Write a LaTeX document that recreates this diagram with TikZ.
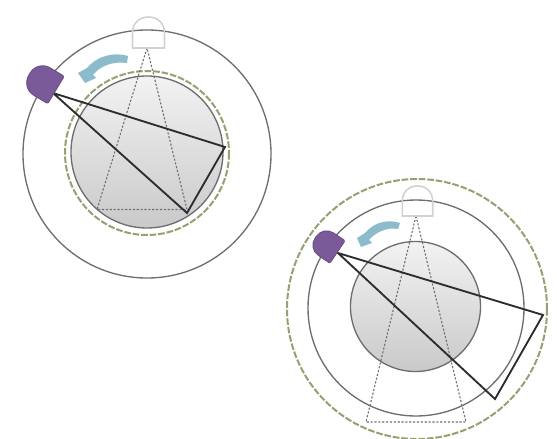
\documentclass[tikz,border=0pt]{standalone}
\usetikzlibrary{shadings}
\definecolor{ringgray}{RGB}{110,110,110}
\definecolor{paledome}{RGB}{210,210,210}
\definecolor{domepurple}{RGB}{122,90,152}
\definecolor{arrowteal}{RGB}{140,188,204}
\definecolor{dashgreen}{RGB}{150,160,115}
\definecolor{rayblack}{RGB}{45,45,45}
\newcommand{\domepath}{(16,0) -- (16,-15) .. controls (16,-25) and (9,-31) .. (0,-31) .. controls (-9,-31) and (-16,-25) .. (-16,-15) -- (-16,0) -- cycle}
\tikzset{
  ring/.style={draw=ringgray,line width=1pt},
  ball/.style={draw=ringgray,line width=1pt,top color=black!5,bottom color=black!21},
  orbit/.style={draw=dashgreen,line width=1.5pt,dash pattern=on 5pt off 1.4pt},
  fan/.style={draw=ringgray,line width=0.8pt,dash pattern=on 1.6pt off 1.3pt},
  ray/.style={draw=rayblack,line width=1.4pt,line join=miter},
  whitedome/.style={draw=paledome,line width=1.2pt},
  purpledome/.style={draw=domepurple!85!black,line width=0.6pt,fill=domepurple,rounded corners=1pt},
  turnarrow/.style={fill=arrowteal,draw=none}
}
\begin{document}
\begin{tikzpicture}[x=0.75pt,y=0.75pt,yscale=-1,xscale=1]
\useasboundingbox (0,0) rectangle (557,439);

%Left: circles
\draw [ring] (147,154) circle (124);
\draw [orbit] (147,153) circle (82);
\draw [ball] (147,152) circle (76);
%Left: pale fan
\draw [fan] (147,48) -- (97,209.5) -- (187,209.5) -- cycle;
%Left: pale dome
\begin{scope}[shift={(148.5,48)}]
\draw [whitedome] \domepath;
\end{scope}
%Left: turn arrow
\path [turnarrow] (128,56) .. controls (115,52) and (98,55) .. (87,68) -- (78,73) -- (85,83) -- (96,78) -- (93,75) .. controls (100,66) and (113,61) .. (127,63) -- cycle;
%Left: solid rays
\draw [ray] (225,147) -- (53,93) -- (187,213) -- cycle;
%Left: purple dome
\begin{scope}[shift={(56,90)},rotate=-59]
\draw [purpledome] \domepath;
\end{scope}

%Right: circles
\draw [orbit] (417,309) circle (130);
\draw [ring] (416,308) circle (108);
\draw [ball] (415.5,306.5) circle (65);
%Right: pale fan
\draw [fan] (416,216) -- (366,422) -- (466,422) -- cycle;
%Right: pale dome
\begin{scope}[shift={(417.5,216)},yscale=0.97,xscale=0.95]
\draw [whitedome] \domepath;
\end{scope}
%Right: turn arrow
\path [turnarrow] (400,223) .. controls (388,219) and (374,222) .. (365,233) -- (357,238) -- (361,247) -- (372,243) -- (369,240) .. controls (376,232) and (387,227) .. (398,229) -- cycle;
%Right: solid rays
\draw [ray] (543,315) -- (338,253) -- (495,399) -- cycle;
%Right: purple dome
\begin{scope}[shift={(337.5,252)},rotate=-56,scale=0.85]
\draw [purpledome] \domepath;
\end{scope}
\end{tikzpicture}
\end{document}
